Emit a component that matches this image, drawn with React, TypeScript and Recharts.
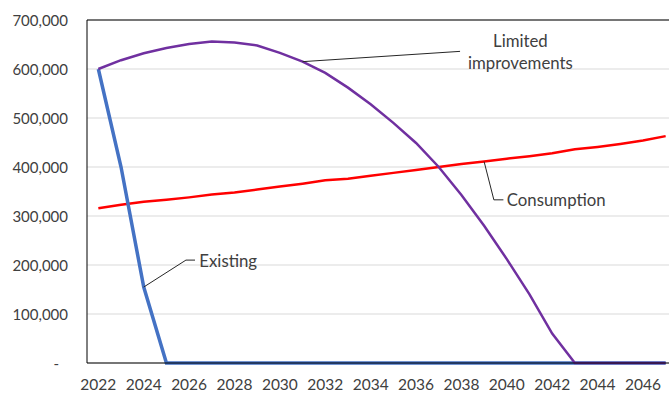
import React from 'react';
import { LineChart, Line, XAxis, YAxis, CartesianGrid, ReferenceLine, ReferenceDot } from 'recharts';

const years = [
  2022, 2023, 2024, 2025, 2026, 2027, 2028, 2029, 2030, 2031, 2032, 2033, 2034,
  2035, 2036, 2037, 2038, 2039, 2040, 2041, 2042, 2043, 2044, 2045, 2046, 2047,
];

const existing = [
  600000, 400000, 155000, 0, 0, 0, 0, 0, 0, 0, 0, 0, 0,
  0, 0, 0, 0, 0, 0, 0, 0, 0, 0, 0, 0, 0,
];

const limitedImprovements = [
  600000, 618000, 632000, 643000, 651000, 656000, 654000, 648000, 633000, 615000, 592000, 562000, 528000,
  490000, 449000, 400000, 343000, 280000, 212000, 140000, 60000, 0, 0, 0, 0, 0,
];

const consumption = [
  316000, 323000, 329000, 333000, 338000, 344000, 348000, 354000, 360000, 366000, 373000, 376000, 382000,
  388000, 394000, 400000, 406000, 411000, 417000, 422000, 428000, 436000, 441000, 447000, 454000, 463000,
];

const xTicks = [2022, 2024, 2026, 2028, 2030, 2032, 2034, 2036, 2038, 2040, 2042, 2044, 2046];
const yTicks = [0, 100000, 200000, 300000, 400000, 500000, 600000, 700000];

const data = years.map((year, i) => ({
  year,
  existing: existing[i],
  limited: limitedImprovements[i],
  consumption: consumption[i],
}));

const FONT = 'Lato, "Open Sans", sans-serif';
const TEXT = '#404040';

// leader lines run from a point on the series out to the label
const callouts = [
  {
    lines: ['Existing'],
    anchor: 'start',
    points: [
      { x: 2024, y: existing[2] },
      { x: 2025.86, y: 210000 },
      { x: 2026.26, y: 210000 },
    ],
    label: { x: 2026.45, y: 210000 },
  },
  {
    lines: ['Consumption'],
    anchor: 'start',
    points: [
      { x: 2039, y: consumption[17] },
      { x: 2039.43, y: 333000 },
      { x: 2039.85, y: 333000 },
    ],
    label: { x: 2040.0, y: 333000 },
  },
  {
    lines: ['Limited', 'improvements'],
    anchor: 'middle',
    points: [
      { x: 2031, y: limitedImprovements[9] },
      { x: 2037.94, y: 636000 },
    ],
    label: { x: 2040.6, y: 636000 },
  },
];

const YTick = (props: any) => {
  const { x, y, payload } = props;
  const v = payload.value as number;
  return (
    <text
      x={v === 0 ? x - 9 : x}
      y={y}
      textAnchor="end"
      dominantBaseline="central"
      fill={TEXT}
      fontSize={15}
      fontFamily={FONT}
    >
      {v === 0 ? '-' : v.toLocaleString('en-US')}
    </text>
  );
};

const calloutLabel = (lines: string[], anchor: string) => (props: any) => {
  const { x, y } = props.viewBox;
  const lineHeight = 22;
  const top = y - ((lines.length - 1) * lineHeight) / 2;
  return (
    <text textAnchor={anchor} fill={TEXT} fontSize={16.8} fontFamily={FONT}>
      {lines.map((l, i) => (
        <tspan key={l} x={x} y={top + i * lineHeight} dominantBaseline="central">
          {l}
        </tspan>
      ))}
    </text>
  );
};

export default function App() {
  return (
    <div
      style={{
        position: 'fixed',
        left: 0,
        top: 0,
        width: 669,
        height: 394,
        overflow: 'hidden',
        background: '#fff',
      }}
    >
      <LineChart width={690} height={394} data={data} margin={{ top: 20, right: 13, bottom: 0, left: 0 }}>
        <CartesianGrid vertical={false} stroke="#d9d9d9" strokeWidth={1} />
        <XAxis
          dataKey="year"
          type="number"
          domain={[2021.5, 2047.5]}
          ticks={xTicks}
          interval={0}
          height={31}
          axisLine={{ stroke: '#000', strokeWidth: 1 }}
          tickLine={false}
          tickSize={0}
          tickMargin={16}
          tick={{ fill: TEXT, fontSize: 15.5, fontFamily: FONT }}
        />
        <YAxis
          type="number"
          domain={[0, 700000]}
          ticks={yTicks}
          interval={0}
          width={87}
          axisLine={{ stroke: '#000', strokeWidth: 1 }}
          tickLine={false}
          tickSize={0}
          tickMargin={19}
          tick={<YTick />}
        />
        <ReferenceLine y={700000} stroke="#000" strokeWidth={1} />

        <Line
          type="linear"
          dataKey="consumption"
          stroke="#ff0000"
          strokeWidth={2.5}
          dot={false}
          activeDot={false}
          isAnimationActive={false}
        />
        <Line
          type="linear"
          dataKey="existing"
          stroke="#4472c4"
          strokeWidth={3.5}
          dot={false}
          activeDot={false}
          isAnimationActive={false}
        />
        <Line
          type="linear"
          dataKey="limited"
          stroke="#7030a0"
          strokeWidth={2.5}
          dot={false}
          activeDot={false}
          isAnimationActive={false}
        />

        {callouts.map((c) =>
          c.points.slice(1).map((p, i) => (
            <ReferenceLine
              key={`${c.lines[0]}-${i}`}
              segment={[c.points[i], p]}
              stroke="#262626"
              strokeWidth={1}
            />
          ))
        )}
        {callouts.map((c) => (
          <ReferenceDot
            key={c.lines[0]}
            x={c.label.x}
            y={c.label.y}
            r={0}
            fill="none"
            stroke="none"
            label={calloutLabel(c.lines, c.anchor)}
          />
        ))}
      </LineChart>
    </div>
  );
}
